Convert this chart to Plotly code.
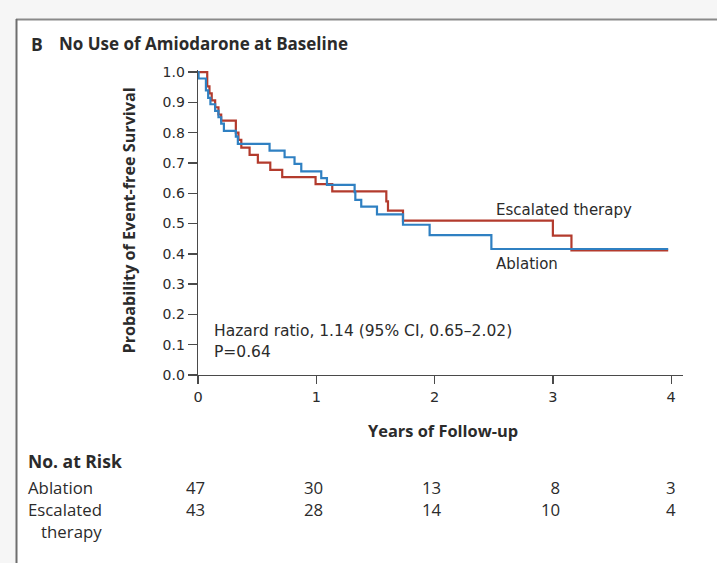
import plotly.graph_objects as go

# ---------------- data ----------------
abl_t = [0.0, 0.005, 0.067, 0.086, 0.105, 0.145, 0.173, 0.196, 0.219, 0.32, 0.337,
         0.605, 0.732, 0.816, 0.873, 1.042, 1.09, 1.324, 1.33, 1.38, 1.513, 1.733,
         1.958, 2.48, 3.975]
abl_s = [1.0, 0.979, 0.94, 0.915, 0.894, 0.872, 0.851, 0.830, 0.806, 0.787, 0.763,
         0.741, 0.719, 0.697, 0.672, 0.650, 0.628, 0.604, 0.578, 0.556, 0.530, 0.496,
         0.462, 0.416, 0.416]

esc_t = [0.0, 0.078, 0.097, 0.116, 0.145, 0.173, 0.196, 0.32, 0.342, 0.366, 0.436,
         0.506, 0.611, 0.712, 0.994, 1.135, 1.592, 1.606, 1.733, 3.0, 3.157, 3.975]
esc_s = [1.0, 0.953, 0.930, 0.907, 0.884, 0.860, 0.840, 0.80, 0.776, 0.751, 0.727,
         0.701, 0.677, 0.653, 0.630, 0.606, 0.573, 0.543, 0.510, 0.46, 0.411, 0.411]

risk_years = [0, 1, 2, 3, 4]
risk_ablation = [47, 30, 13, 8, 3]
risk_escalated = [43, 28, 14, 10, 4]
risk_labels = ["Ablation", "Escalated", "&nbsp;&nbsp;&nbsp;therapy"]

x_ticks = [0, 1, 2, 3, 4]
y_ticks = [0.0, 0.1, 0.2, 0.3, 0.4, 0.5, 0.6, 0.7, 0.8, 0.9, 1.0]

# ---------------- layout helpers ----------------
W, H = 717, 563
ML, MR, MT, MB = 198, 34, 70, 188
PW, PH = W - ML - MR, H - MT - MB


def pxx(xp):
    return (xp - ML) / PW


def pyy(yp):
    return (H - MB - yp) / PH


RED = "#b33b2d"
BLUE = "#2f80c2"
AX = "#4a4a4a"
TXT = "#2b2b2b"
FONT = "Open Sans"
FONT2 = "DejaVu Sans"
RISK_SIZE = 16.8

fig = go.Figure()
fig.add_trace(go.Scatter(x=esc_t, y=esc_s, mode="lines", line=dict(color=RED, width=2.2, shape="hv"),
                         name="Escalated therapy", showlegend=False, hoverinfo="skip"))
fig.add_trace(go.Scatter(x=abl_t, y=abl_s, mode="lines", line=dict(color=BLUE, width=2.2, shape="hv"),
                         name="Ablation", showlegend=False, hoverinfo="skip"))

ann = []


def add(text, xp, yp, size=14, bold=False, xanchor="left", color=TXT, family=FONT):
    ann.append(dict(text=("<b>%s</b>" % text) if bold else text, x=pxx(xp), y=pyy(yp),
                    xref="paper", yref="paper", xanchor=xanchor, yanchor="middle",
                    showarrow=False, font=dict(family=family, size=size, color=color)))


add("B", 29, 44, size=17.5, bold=True)
add("No Use of Amiodarone at Baseline", 57, 44, size=17, bold=True)
ann.append(dict(text="<b>Probability of Event-free Survival</b>", x=pxx(128.5), y=pyy(221),
                xref="paper", yref="paper", xanchor="center", yanchor="middle", textangle=-90,
                showarrow=False, font=dict(family=FONT, size=16.2, color=TXT)))
add("Years of Follow-up", 443, 430, size=16.4, bold=True, xanchor="center")
add("Escalated therapy", 494, 210, size=15, family=FONT2)
add("Ablation", 494, 264, size=15, family=FONT2)
add("Hazard ratio, 1.14 (95% CI, 0.65–2.02)", 212, 331, size=15.5, family=FONT2)
add("P=0.64", 212, 352, size=15.5, family=FONT2)
add("No. at Risk", 26, 461, size=17.5, bold=True)

# risk table: row labels as one multi-line text
ann.append(dict(text="<br>".join(risk_labels), x=pxx(26), y=pyy(473.5), xref="paper", yref="paper",
                xanchor="left", yanchor="top", align="left", showarrow=False,
                font=dict(family=FONT, size=RISK_SIZE, color=TXT)))

# numbers: one two-line text per time point
for yr, a, e in zip(risk_years, risk_ablation, risk_escalated):
    last = yr == risk_years[-1]
    ann.append(dict(text="%d<br>%d" % (a, e), x=yr, xref="x", y=pyy(473.5), yref="paper",
                    xanchor="center" if last else "right", yanchor="top",
                    align="center" if last else "right",
                    xshift=0 if last else 9,
                    showarrow=False, font=dict(family=FONT, size=RISK_SIZE, color=TXT)))

shapes = [
    # white panel
    dict(type="rect", xref="paper", yref="paper", x0=pxx(16), x1=pxx(W + 5), y0=pyy(H + 5), y1=pyy(19),
         fillcolor="white", line=dict(width=0), layer="below"),
    dict(type="line", xref="paper", yref="paper", x0=pxx(16), x1=pxx(W + 5), y0=pyy(19.5), y1=pyy(19.5),
         line=dict(color="#8a8a8a", width=2), layer="below"),
    dict(type="line", xref="paper", yref="paper", x0=pxx(16.5), x1=pxx(16.5), y0=pyy(19), y1=pyy(H + 5),
         line=dict(color="#6e6e6e", width=2), layer="below"),
]

fig.update_layout(
    width=W, height=H,
    margin=dict(l=ML, r=MR, t=MT, b=MB, pad=0),
    paper_bgcolor="#f6f6f6", plot_bgcolor="rgba(0,0,0,0)",
    showlegend=False,
    annotations=ann, shapes=shapes,
    xaxis=dict(range=[0, 4.1], tickvals=x_ticks, ticktext=[str(v) for v in x_ticks],
               showgrid=False, zeroline=False, showline=True, linecolor=AX, linewidth=1.4,
               ticks="outside", ticklen=8, tickwidth=1.3, tickcolor=AX,
               tickfont=dict(family=FONT2, size=14.5, color=TXT), fixedrange=True),
    yaxis=dict(range=[0, 1.007], tickvals=y_ticks, ticktext=["%.1f" % v for v in y_ticks],
               showgrid=False, zeroline=False, showline=True, linecolor=AX, linewidth=1.4,
               ticks="outside", ticklen=9, tickwidth=1.3, tickcolor=AX,
               tickfont=dict(family=FONT2, size=14, color=TXT), fixedrange=True),
)

fig.write_html("out.html", config={"displayModeBar": False, "staticPlot": True},
               post_script="document.body.style.margin='0px';document.body.style.overflow='hidden';")
